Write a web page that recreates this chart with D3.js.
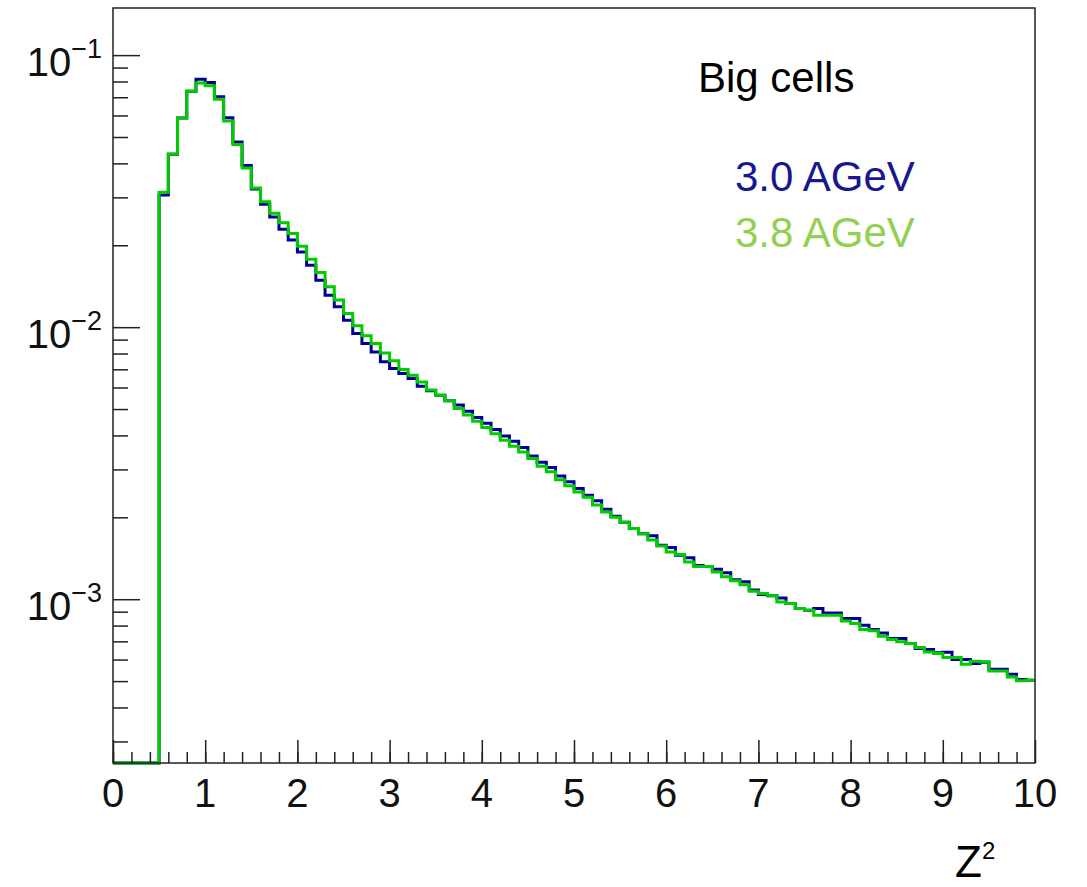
<!DOCTYPE html>
<html>
<head>
<meta charset="utf-8">
<script src="https://cdn.jsdelivr.net/npm/d3@7"></script>
<style>
  body { margin: 0; background: #fff; }
  text { font-family: "Liberation Sans", Arial, sans-serif; }
</style>
</head>
<body>
<script>
// Z^2 distribution, big cells, two beam energies (100 bins over 0..10)

const binWidth = 0.1
const binLow = d3.range(100).map(i => +(i * binWidth).toFixed(1))

// 3.0 AGeV (blue)
const series30 = [
  0, 0, 0, 0, 0,
  0.0306, 0.0432, 0.0587, 0.0737, 0.0816, 0.0793, 0.0703, 0.0588, 0.0479, 0.0393,
  0.0322, 0.0283, 0.0254, 0.0229, 0.0209, 0.0189, 0.0169, 0.01489, 0.01311, 0.01188,
  0.0106, 0.00948, 0.00871, 0.00811, 0.00746, 0.00705, 0.00676, 0.00648, 0.00607, 0.00584,
  0.00562, 0.00536, 0.00517, 0.00491, 0.00466, 0.00443, 0.00421, 0.00398, 0.00381, 0.00361,
  0.00336, 0.00319, 0.00305, 0.00284, 0.0027, 0.00255, 0.00241, 0.0023, 0.00214, 0.00202,
  0.00192, 0.00182, 0.00174, 0.00171, 0.00158, 0.00155, 0.00145, 0.00142, 0.00133, 0.00132,
  0.00129, 0.00125, 0.00118, 0.00116, 0.00108, 0.00104, 0.00103, 0.00101, 0.000964, 0.000924,
  0.000911, 0.000924, 0.00089, 0.00089, 0.000849, 0.000849, 0.000803, 0.000774, 0.000752, 0.000717,
  0.000717, 0.000687, 0.000659, 0.000653, 0.000636, 0.000638, 0.0006, 0.0006, 0.00058, 0.000586,
  0.000553, 0.000553, 0.00053, 0.000507, 0.000504
]

// 3.8 AGeV (green)
const series38 = [
  0, 0, 0, 0, 0,
  0.0313, 0.0433, 0.0587, 0.0737, 0.0789, 0.0771, 0.0689, 0.0573, 0.0469, 0.0385,
  0.0325, 0.0289, 0.0262, 0.0242, 0.0221, 0.01985, 0.01778, 0.01589, 0.01407, 0.01258,
  0.01123, 0.01011, 0.00929, 0.00871, 0.00804, 0.00752, 0.00699, 0.00666, 0.00629, 0.00587,
  0.00562, 0.00536, 0.00502, 0.00475, 0.00451, 0.00428, 0.00406, 0.00384, 0.00365, 0.00348,
  0.00329, 0.00308, 0.00294, 0.00275, 0.00261, 0.00248, 0.00237, 0.00222, 0.00209, 0.002,
  0.00192, 0.00182, 0.00174, 0.00165, 0.00157, 0.00149, 0.00146, 0.00137, 0.00132, 0.00132,
  0.00126, 0.00121, 0.00117, 0.00113, 0.00107, 0.00105, 0.00103, 0.000977, 0.000964, 0.000924,
  0.000911, 0.000873, 0.000873, 0.000873, 0.000832, 0.000814, 0.000774, 0.000765, 0.000731, 0.000711,
  0.000697, 0.000687, 0.000664, 0.00064, 0.000632, 0.000611, 0.000611, 0.000577, 0.000592, 0.000589,
  0.000545, 0.000545, 0.000518, 0.000501, 0.000504
]

const xMajor = d3.range(0, 11)
const xMinor = d3.range(0, 50).map(i => +(i * 0.2).toFixed(1))
const yMajor = [1e-3, 1e-2, 1e-1]
const yMajorExp = ['\u22123', '\u22122', '\u22121']
const yMinor = [3e-4, 4e-4, 5e-4, 6e-4, 7e-4, 8e-4, 9e-4,
  2e-3, 3e-3, 4e-3, 5e-3, 6e-3, 7e-3, 8e-3, 9e-3,
  2e-2, 3e-2, 4e-2, 5e-2, 6e-2, 7e-2, 8e-2, 9e-2]

const legend = [
  { label: '3.0 AGeV', color: '#17178f' },
  { label: '3.8 AGeV', color: '#92d050' }
]

//frame of the plot
const m = { left: 113, right: 1035, top: 8, bottom: 763 }
const yMin = 2.5e-4, yMax = 0.149

const svg = d3.select('body').append('svg')
  .attr('width', 1087)
  .attr('height', 887)

const x = d3.scaleLinear().domain([0, 10]).range([m.left, m.right])
const y = d3.scaleLog().domain([yMin, yMax]).range([m.bottom, m.top])

//step path for one histogram, empty bins sit on the bottom edge
function histPath(vals) {
  const pts = vals.map((v, i) => [binLow[i], Math.max(v, yMin)])
  pts.push([10, Math.max(vals[vals.length - 1], yMin)])
  return d3.line()
    .x(d => x(d[0]))
    .y(d => y(d[1]))
    .curve(d3.curveStepAfter)(pts)
}

const plot = svg.append('g')

plot.append('path')
  .attr('d', histPath(series30))
  .attr('fill', 'none')
  .attr('stroke', '#000099')
  .attr('stroke-width', 3)

plot.append('path')
  .attr('d', histPath(series38))
  .attr('fill', 'none')
  .attr('stroke', '#00cc00')
  .attr('stroke-width', 3)

//axes: ticks point into the frame
const axisStroke = '#222'

const gx = svg.append('g').attr('transform', `translate(0,${m.bottom})`)
gx.call(d3.axisBottom(x).tickValues(xMinor).tickSizeInner(-11).tickSizeOuter(0).tickFormat(''))
gx.append('g').call(d3.axisBottom(x).tickValues(xMajor).tickSizeInner(-23).tickSizeOuter(0).tickFormat(''))

const gy = svg.append('g').attr('transform', `translate(${m.left},0)`)
gy.call(d3.axisLeft(y).tickValues(yMinor).tickSizeInner(-15).tickSizeOuter(0).tickFormat(''))
gy.append('g').call(d3.axisLeft(y).tickValues(yMajor).tickSizeInner(-27).tickSizeOuter(0).tickFormat(''))

svg.selectAll('.domain').remove()
svg.selectAll('.tick line').attr('stroke', axisStroke).attr('stroke-width', 1.5)

//frame
svg.append('rect')
  .attr('x', m.left)
  .attr('y', m.top)
  .attr('width', m.right - m.left)
  .attr('height', m.bottom - m.top)
  .attr('fill', 'none')
  .attr('stroke', axisStroke)
  .attr('stroke-width', 1.5)

//x tick labels
svg.selectAll('.xlab')
  .data(xMajor)
  .enter()
  .append('text')
    .attr('x', d => x(d))
    .attr('y', 807)
    .attr('text-anchor', 'middle')
    .attr('font-size', '40px')
    .attr('fill', '#111')
    .text(d => d)

//y tick labels, 10 with a raised exponent
yMajor.forEach((v, i) => {
  const t = svg.append('text')
    .attr('x', 102)
    .attr('y', y(v) + 21)
    .attr('text-anchor', 'end')
    .attr('font-size', '40px')
    .attr('fill', '#111')
  t.append('tspan').text('10')
  t.append('tspan').attr('dy', -18).attr('font-size', '27px').text(yMajorExp[i])
})

//axis title
const xt = svg.append('text')
  .attr('x', 955)
  .attr('y', 877)
  .attr('font-size', '44px')
  .attr('fill', '#000')
xt.append('tspan').text('Z')
xt.append('tspan').attr('dy', -18).attr('font-size', '24px').text('2')

//annotation and legend
svg.append('text')
  .attr('x', 698)
  .attr('y', 92)
  .attr('font-family', 'Lato, sans-serif')
  .attr('font-size', '42px')
  .attr('fill', '#000')
  .text('Big cells')

svg.selectAll('.leg')
  .data(legend)
  .enter()
  .append('text')
    .attr('x', 735)
    .attr('y', (d, i) => 191 + i * 56)
    .attr('font-family', 'Lato, sans-serif')
    .attr('font-size', '42px')
    .attr('fill', d => d.color)
    .text(d => d.label)
</script>
</body>
</html>
